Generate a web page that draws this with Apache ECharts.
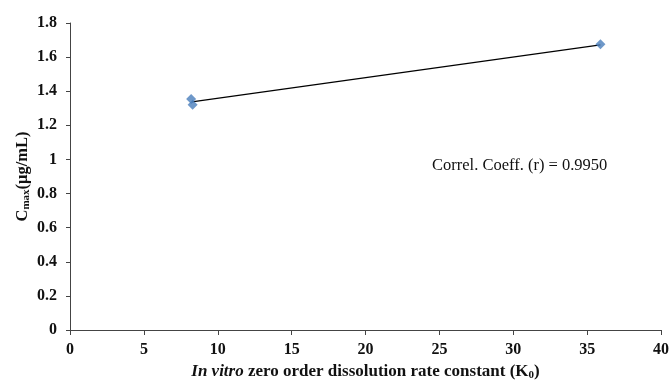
<!DOCTYPE html>
<html><head><meta charset="utf-8">
<script src="https://cdn.jsdelivr.net/npm/echarts@6/dist/echarts.min.js"></script>
<style>html,body{margin:0;padding:0;background:#fff}#c{width:672px;height:380px}</style>
</head><body><div id="c"></div>
<script>
const xTicks = [0,5,10,15,20,25,30,35,40];
const yTicks = [0,0.2,0.4,0.6,0.8,1,1.2,1.4,1.6,1.8];
const pointsX = [8.2, 8.3, 35.9];
const pointsY = [1.355, 1.32, 1.675];
const trendX = [8.25, 35.9];
const trendY = [1.338, 1.672];
const annotation = 'Correl. Coeff. (r) = 0.9950';

const font = 'Liberation Serif, Times New Roman, serif';
const chart = echarts.init(document.getElementById('c'));
chart.setOption({
  animation: false,
  grid: {left: 70, right: 11, top: 23, bottom: 50, outerBoundsMode: 'none', containLabel: false},
  xAxis: {
    type: 'value', min: 0, max: 40, interval: 5,
    axisLine: {show: true, lineStyle: {color: '#444', width: 1}},
    axisTick: {show: true, length: 5, lineStyle: {color: '#444'}},
    splitLine: {show: false},
    axisLabel: {fontFamily: font, fontWeight: 'bold', fontSize: 16, color: '#111', margin: 12},
    name: '{i|In vitro}{b| zero order dissolution rate constant (K}{s|0}{b|)}',
    nameLocation: 'middle', nameGap: 32,
    nameTextStyle: {rich: {
      i: {fontFamily: font, fontStyle: 'italic', fontWeight: 'bold', fontSize: 17, color: '#111'},
      b: {fontFamily: font, fontWeight: 'bold', fontSize: 17, color: '#111'},
      s: {fontFamily: font, fontWeight: 'bold', fontSize: 11, color: '#111', verticalAlign: 'bottom', padding: [7,0,0,0]}
    }}
  },
  yAxis: {
    type: 'value', min: 0, max: 1.8, interval: 0.2,
    axisLine: {show: true, lineStyle: {color: '#444', width: 1}},
    axisTick: {show: true, length: 4, lineStyle: {color: '#444'}},
    splitLine: {show: false},
    axisLabel: {fontFamily: font, fontWeight: 'bold', fontSize: 16, color: '#111', margin: 13,
      formatter: v => String(Math.round(v*10)/10)},
    name: '{b|C}{s|max}{b|(μg/mL)}',
    nameLocation: 'middle', nameGap: 38, nameRotate: 90, nameMoveOverlap: false,
    nameTextStyle: {rich: {
      b: {fontFamily: font, fontWeight: 'bold', fontSize: 16.5, color: '#111'},
      s: {fontFamily: font, fontWeight: 'bold', fontSize: 11, color: '#111', verticalAlign: 'bottom', padding: [7,0,0,0]}
    }}
  },
  series: [
    {
      type: 'line', data: trendX.map((x,i)=>[x, trendY[i]]),
      symbol: 'none', lineStyle: {color: '#000', width: 1.3}, z: 2
    },
    {
      type: 'scatter', data: pointsX.map((x,i)=>[x, pointsY[i]]),
      symbol: 'diamond', symbolSize: 10,
      itemStyle: {color: '#4a7ebb'}, z: 3
    }
  ],
  graphic: [{
    type: 'text', left: 432, top: 157,
    style: {text: annotation, fontFamily: font, fontSize: 16.5, fill: '#111'}
  }]
});
</script></body></html>
